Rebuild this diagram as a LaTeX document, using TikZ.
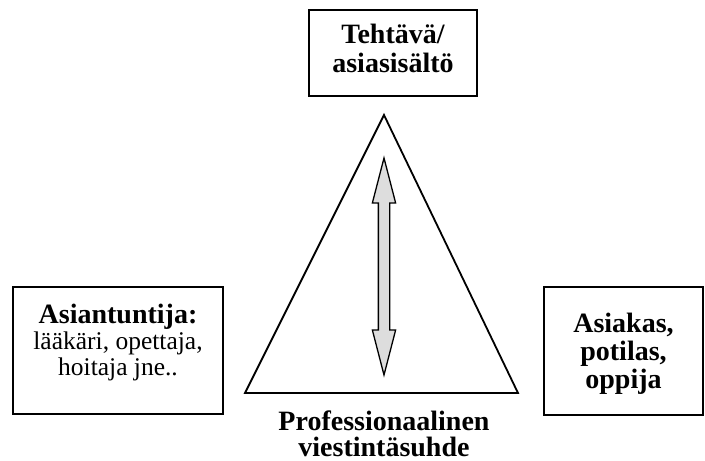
\documentclass[tikz,border=0pt]{standalone}
\usepackage{fontspec}
\setmainfont{Liberation Serif}
\usetikzlibrary{shapes.arrows}
\newcommand{\plaintextfont}{\fontsize{25.5}{26}\selectfont\mdseries}

\begin{document}
\begin{tikzpicture}[
    x=1pt, y=-1pt,
    box/.style={draw, line width=2.6pt, rectangle, align=center, inner sep=0pt, font=\fontsize{28}{28}\selectfont\bfseries},
    twoway/.style={draw, line width=1.3pt, fill=gray!27, double arrow, double arrow head extend=6pt,
        double arrow tip angle=29, inner xsep=0pt, inner ysep=5pt, minimum height=217pt, rotate=90},
    caption/.style={align=center, inner sep=0pt, font=\fontsize{28}{26}\selectfont\bfseries}
]
\useasboundingbox (0,0) rectangle (705,461);

% ====================
% Laatikot
% ====================
\node[box, minimum width=168pt, minimum height=86pt, text depth=10pt,
    font=\fontsize{28}{29}\selectfont\bfseries] (task) at (393, 53) {Tehtävä/\\asiasisältö};
\node[box, minimum width=210pt, minimum height=127pt, text depth=22pt,
    font=\fontsize{28}{26}\selectfont\bfseries] (expert) at (118, 350.5)
    {Asiantuntija:\\{\plaintextfont lääkäri, opettaja,}\\{\plaintextfont hoitaja jne..}};
\node[box, minimum width=159pt, minimum height=128pt, text depth=0pt] (client) at (623.5, 351)
    {Asiakas,\\potilas,\\oppija};

% ====================
% Kolmio
% ====================
\coordinate (apex) at (384, 115);
\coordinate (baseL) at (245, 393);
\coordinate (baseR) at (518, 393);
\draw[line width=1.8pt, line join=miter] (apex) -- (baseL) -- (baseR) -- cycle;

% Nuoli kolmion sisällä
\node[twoway] (link) at (384, 266.5) {};

% Kolmion kanta
\node[caption, anchor=north] (relation) at (384, 410.5) {Professionaalinen\\viestintäsuhde};

\end{tikzpicture}
\end{document}
